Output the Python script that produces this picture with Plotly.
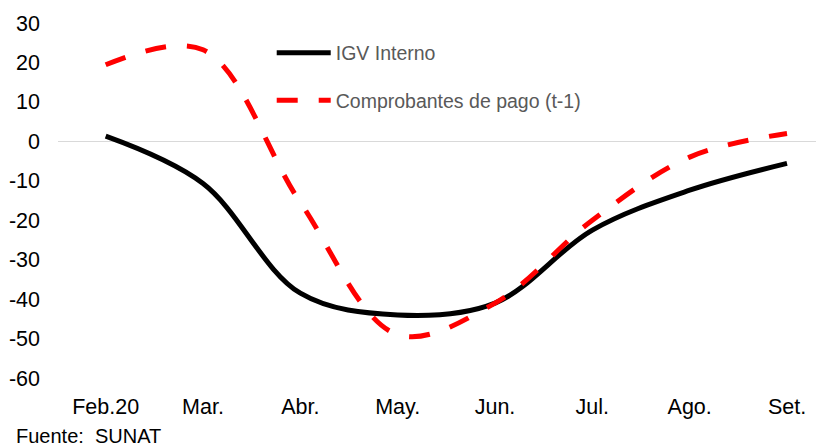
import plotly.graph_objects as go

categories = ["Feb.20", "Mar.", "Abr.", "May.", "Jun.", "Jul.", "Ago.", "Set."]
igv_interno = [1.3, -10.7, -38.5, -44.0, -41.0, -22.5, -12.4, -5.6]
comprobantes = [19.4, 23.2, -15.5, -49.0, -41.0, -20.0, -4.0, 2.0]
y_ticks = [30, 20, 10, 0, -10, -20, -30, -40, -50, -60]

FONT = "Liberation Sans, Arial, sans-serif"

fig = go.Figure()
fig.add_trace(go.Scatter(
    x=categories, y=igv_interno, name="IGV Interno", mode="lines",
    line=dict(color="#000000", width=5, shape="spline", smoothing=1),
    legendgroup="a",
))
fig.add_trace(go.Scatter(
    x=categories, y=comprobantes, name="Comprobantes de pago (t-1)", mode="lines",
    line=dict(color="#FF0000", width=5, shape="spline", smoothing=1, dash="21px,21px"),
    legendgroup="b",
))

fig.update_layout(
    width=824, height=447,
    margin=dict(l=50, r=8, t=15, b=77),
    plot_bgcolor="white", paper_bgcolor="white",
    font=dict(family=FONT, size=21.5, color="#000000"),
    showlegend=True,
    legend=dict(
        x=0.279, y=0.97, xanchor="left", yanchor="top",
        bgcolor="rgba(0,0,0,0)", borderwidth=0,
        font=dict(family=FONT, size=19.5, color="#595959"),
        traceorder="grouped", tracegroupgap=19, itemwidth=54,
    ),
    xaxis=dict(
        type="category", range=[-0.49, 7.38],
        showgrid=False, showline=False, zeroline=False,
        ticks="", ticklabelstandoff=13, automargin=False,
        tickfont=dict(family=FONT, size=21.5, color="#000000"),
        fixedrange=True,
    ),
    yaxis=dict(
        range=[-60, 30], tickvals=y_ticks, ticktext=[str(v) for v in y_ticks],
        showgrid=False, showline=False,
        zeroline=True, zerolinecolor="#D9D9D9", zerolinewidth=1.3,
        ticks="", ticklabelstandoff=17, automargin=False,
        tickfont=dict(family=FONT, size=21.5, color="#000000"),
        fixedrange=True,
    ),
    annotations=[dict(
        text="Fuente:  SUNAT", xref="paper", yref="paper",
        x=0, y=0, xanchor="left", yanchor="middle",
        xshift=-44, yshift=-58,
        showarrow=False, font=dict(family=FONT, size=20, color="#000000"),
    )],
)

fig.write_html("out.html")
